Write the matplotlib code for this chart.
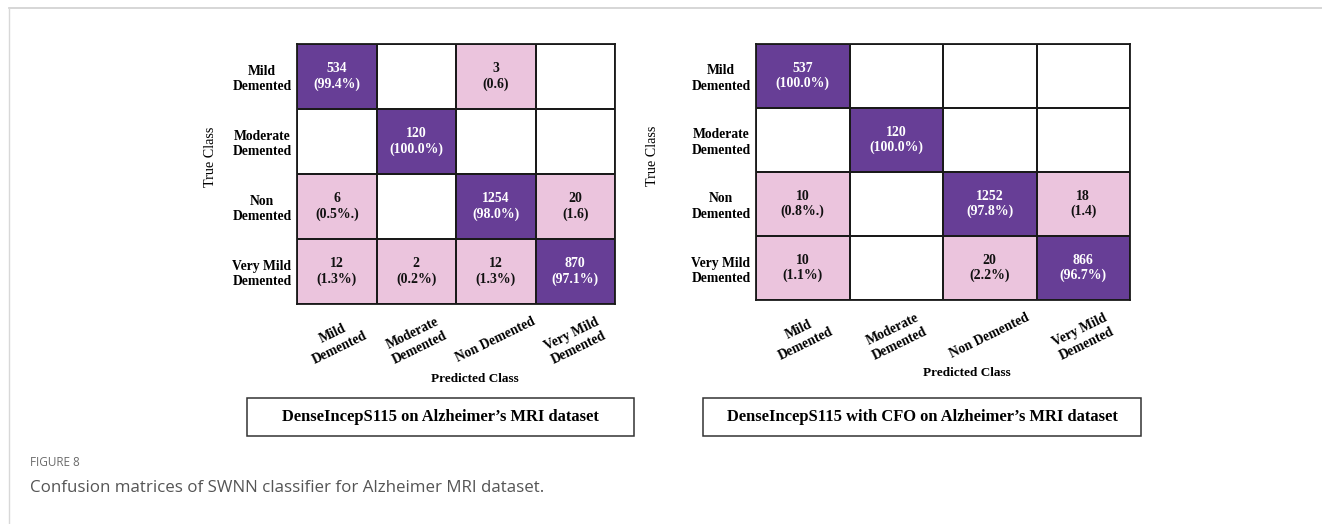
import numpy as np
import matplotlib
matplotlib.use("Agg")
import matplotlib.pyplot as plt
from matplotlib.colors import ListedColormap
from matplotlib.lines import Line2D
from matplotlib.patches import Rectangle

plt.rcParams['font.family'] = ['Liberation Serif', 'DejaVu Serif']

W, H = 1322, 524

classes = ["Mild\nDemented", "Moderate\nDemented", "Non\nDemented", "Very Mild\nDemented"]
pred_labels = ["Mild\nDemented", "Moderate\nDemented", "Non Demented", "Very Mild\nDemented"]

counts_base = [[534, 0, 3, 0],
               [0, 120, 0, 0],
               [6, 0, 1254, 20],
               [12, 2, 12, 870]]
pct_base = [["(99.4%)", "", "(0.6)", ""],
            ["", "(100.0%)", "", ""],
            ["(0.5%.)", "", "(98.0%)", "(1.6)"],
            ["(1.3%)", "(0.2%)", "(1.3%)", "(97.1%)"]]

counts_cfo = [[537, 0, 0, 0],
              [0, 120, 0, 0],
              [10, 0, 1252, 18],
              [10, 0, 20, 866]]
pct_cfo = [["(100.0%)", "", "", ""],
           ["", "(100.0%)", "", ""],
           ["(0.8%.)", "", "(97.8%)", "(1.4)"],
           ["(1.1%)", "", "(2.2%)", "(96.7%)"]]

title_base = "DenseIncepS115 on Alzheimer\u2019s MRI dataset"
title_cfo = "DenseIncepS115 with CFO on Alzheimer\u2019s MRI dataset"

PURPLE = "#673e96"
PINK = "#ebc4dd"
cmap = ListedColormap(["white", PINK, PURPLE])

fig = plt.figure(figsize=(W / 100, H / 100), dpi=100)


def px_axes(x0, y0, x1, y1):
    # pixel box (top-left origin) -> figure axes
    return fig.add_axes([x0 / W, 1 - y1 / H, (x1 - x0) / W, (y1 - y0) / H])


def fx(x):
    return x / W


def fy(y):
    return 1 - y / H


def draw_matrix(box, counts, pcts, true_xy, pred_xy, title_box, title):
    ax = px_axes(*box)
    c = np.array(counts)
    cat = np.where(c > 0, 1, 0)
    cat[np.eye(len(c), dtype=bool)] = 2
    ax.pcolormesh(cat, cmap=cmap, vmin=0, vmax=2, edgecolors="#1a1a1a", linewidth=1.3)
    ax.set_xlim(0, 4)
    ax.set_ylim(4, 0)
    for i in range(4):
        for j in range(4):
            if c[i, j] == 0:
                continue
            col = "white" if cat[i, j] == 2 else "#111111"
            ax.text(j + 0.5, i + 0.5, f"{c[i, j]}\n{pcts[i][j]}", ha="center", va="center",
                    color=col, fontsize=9.9, fontweight="bold", linespacing=1.15)
    ax.set_xticks(np.arange(4) + 0.5)
    ax.set_xticklabels(pred_labels, rotation=26, ha="center", fontsize=9.8,
                       fontweight="bold", linespacing=1.3)
    ax.set_yticks(np.arange(4) + 0.5)
    ax.set_yticklabels(classes, fontsize=9.8, fontweight="bold", multialignment="center",
                       linespacing=1.2)
    ax.tick_params(length=0, pad=4)
    ax.tick_params(axis="x", pad=8)
    for s in ax.spines.values():
        s.set_linewidth(1.3)
        s.set_color("#1a1a1a")

    fig.text(fx(true_xy[0]), fy(true_xy[1]), "True Class", rotation=90, ha="center",
             va="center", fontsize=10.2)
    fig.text(fx(pred_xy[0]), fy(pred_xy[1]), "Predicted Class", ha="center", va="center",
             fontsize=9.5, fontweight="bold")

    x0, y0, x1, y1 = title_box
    fig.patches.append(Rectangle((fx(x0), fy(y1)), fx(x1 - x0), (y1 - y0) / H,
                                 transform=fig.transFigure, facecolor="white",
                                 edgecolor="#333333", linewidth=1.1))
    fig.text(fx((x0 + x1) / 2), fy((y0 + y1) / 2), title, ha="center", va="center",
             fontsize=11.9, fontweight="bold")


draw_matrix((297, 44, 615, 304), counts_base, pct_base, (211, 157), (475, 379),
            (247, 398, 634, 436), title_base)
draw_matrix((756, 44, 1130, 300), counts_cfo, pct_cfo, (652, 156), (967, 373),
            (703, 398, 1141, 436), title_cfo)

# page frame (top and left rules)
fig.lines.append(Line2D([fx(9), 1], [fy(7.5), fy(7.5)], transform=fig.transFigure,
                        color="#cfcfcf", linewidth=1.2))
fig.lines.append(Line2D([fx(9), fx(9)], [fy(7.5), 0], transform=fig.transFigure,
                        color="#d8d8d8", linewidth=1.0))

# caption
fig.text(fx(30), fy(463), "FIGURE 8", ha="left", va="center", fontsize=8.5,
         color="#6b6b6b", family="Open Sans")
fig.text(fx(30), fy(488), "Confusion matrices of SWNN classifier for Alzheimer MRI dataset.",
         ha="left", va="center", fontsize=12.2, color="#555555", family="Open Sans")

fig.savefig("out.png", dpi=100)
